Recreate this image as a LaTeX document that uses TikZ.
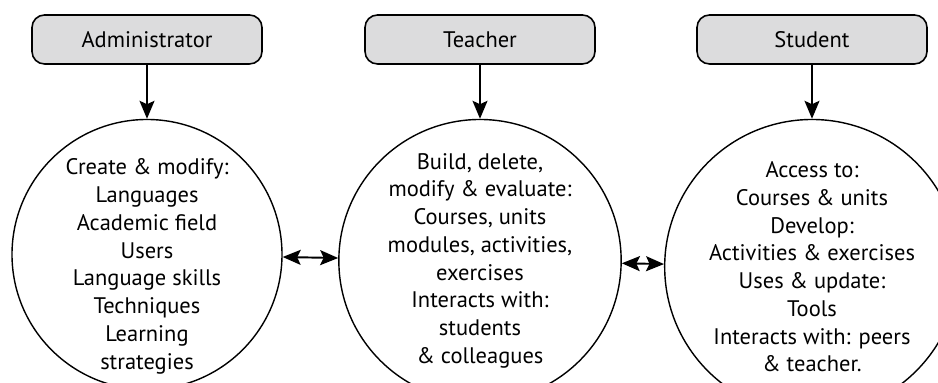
\documentclass[tikz,border=0pt]{standalone}
\usepackage{fontspec}
\setmainfont{PT Sans}
\usetikzlibrary{positioning,arrows.meta}
\definecolor{rolegray}{HTML}{DCDCDD}
\begin{document}
\begin{tikzpicture}[
        font=\fontsize{12.8}{15.8}\selectfont,
        role/.style={draw, line width=0.9pt, fill=rolegray, rounded corners=0.25cm,
          minimum width=4.6cm, minimum height=0.98cm, inner sep=0pt},
        task/.style={draw, circle, line width=0.8pt, minimum size=5.4cm,
          inner sep=0pt, align=center},
        down/.style={-{Stealth[length=0.36cm, width=0.3cm, inset=0.07cm]}, line width=1.1pt},
        both/.style={{Stealth[length=0.36cm, width=0.3cm, inset=0.07cm]}-{Stealth[length=0.36cm, width=0.3cm, inset=0.07cm]}, line width=1.1pt}]
    \useasboundingbox (0,0) rectangle (18.76,7.66);
    % actors
    \node[role] (admin) at (2.94,6.87) {Administrator};
    \node[role] (teacher) at (9.6,6.87) {Teacher};
    \node[role] (student) at (16.24,6.87) {Student};
    % what each one does (admin text sits a bit low in its circle)
    \node[task, below=1.08cm of admin,
      label={[align=center, yshift=-0.24cm]center:Create \& modify:\\ Languages\\ Academic field\\
      Users\\ Language skills\\ Techniques\\ Learning\\ strategies}] (admintask) {};
    \node[task, below=1.08cm of teacher] (teachertask) {Build, delete,\\ modify \& evaluate:\\
      Courses, units\\ modules, activities,\\ exercises\\ Interacts with:\\ students\\ \& colleagues};
    \node[task, below=1.08cm of student] (studenttask) {Access to:\\ Courses \& units\\ Develop:\\
      Activities \& exercises\\ Uses \& update:\\ Tools\\ Interacts with: peers\\ \& teacher.};
    \draw[down] (admin) -- (admintask);
    \draw[down] (teacher) -- (teachertask);
    \draw[down] (student) -- (studenttask);
    \draw[both] (admintask) -- (teachertask);
    \draw[both] (teachertask) -- (studenttask);
\end{tikzpicture}
\end{document}
